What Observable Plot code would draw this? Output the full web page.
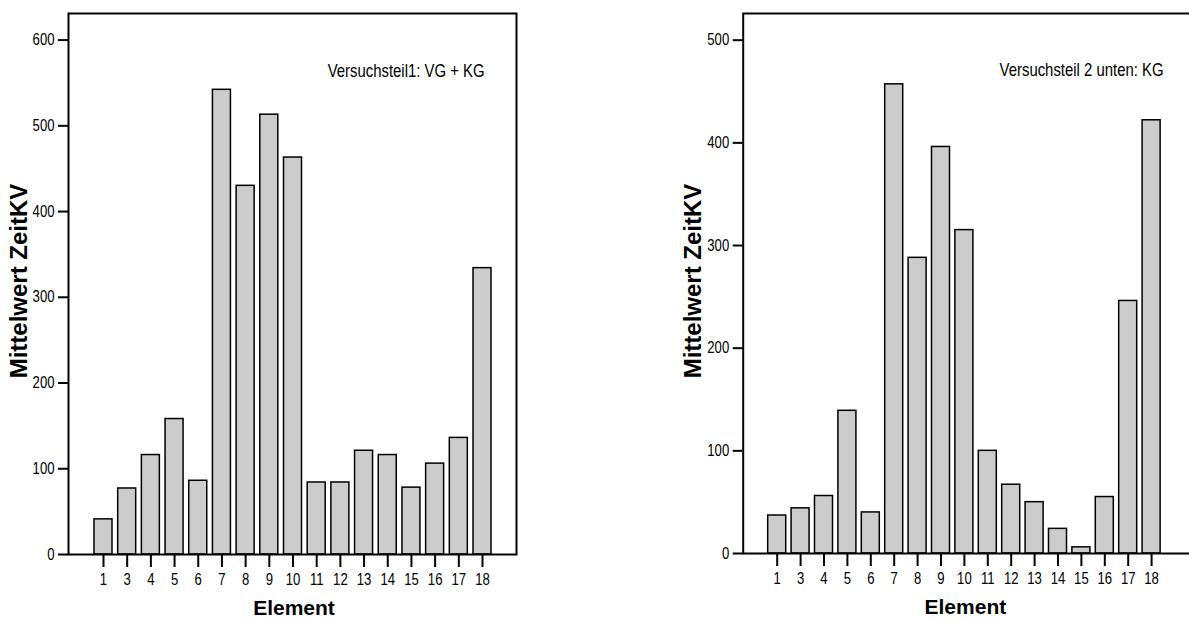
<!DOCTYPE html>
<html><head><meta charset="utf-8">
<script src="https://cdn.jsdelivr.net/npm/d3@7"></script>
<script src="https://cdn.jsdelivr.net/npm/@observablehq/plot@0.6"></script>
<style>
html,body{margin:0;padding:0;background:#fff;overflow:hidden;width:1189px;height:621px;}
#c1,#c2{position:absolute;top:0;width:540px;height:621px;}
#c1{left:0px}
#c2{left:660px}
svg{max-width:none !important;}
</style></head><body>
<div id="c1"></div><div id="c2"></div>
<script>
// Data
const elements = [1, 3, 4, 5, 6, 7, 8, 9, 10, 11, 12, 13, 14, 15, 16, 17, 18];
const zeitKV1 = [41, 77, 116, 158, 86, 542, 430, 513, 463, 84, 84, 121, 116, 78, 106, 136, 334];
const zeitKV2 = [37, 44, 56, 139, 40, 457, 288, 396, 315, 100, 67, 50, 24, 6, 55, 246, 422];
const yTicks1 = [0, 100, 200, 300, 400, 500, 600];
const yTicks2 = [0, 100, 200, 300, 400, 500];
const yMax1 = 631;
const yMax2 = 526;
const yTitle = "Mittelwert ZeitKV";
const xTitle = "Element";
const note1 = "Versuchsteil1: VG + KG";
const note2 = "Versuchsteil 2 unten: KG";

const SANS = "'Liberation Sans', Arial, Helvetica, sans-serif";

// narrow the glyphs of some texts, keeping their anchor and position
function condenseEl(el, k) {
  const w = el.getComputedTextLength();
  if (w > 0) {
    el.setAttribute("textLength", (w * k).toFixed(2));
    el.setAttribute("lengthAdjust", "spacingAndGlyphs");
  }
}

function chart(values, ticks, yMax, note, o) {
  const rows = elements.map((e, i) => ({e: String(e), v: values[i]}));
  return Plot.plot({
    width: o.width,
    height: 621,
    marginLeft: o.marginLeft,
    marginRight: o.marginRight,
    marginTop: 13,
    marginBottom: o.marginBottom,
    style: {fontFamily: SANS, fontSize: "16px", color: "black", background: "white", overflow: "visible", maxWidth: "none"},
    x: {type: "band", domain: elements.map(String), paddingInner: o.pad, paddingOuter: o.pad / 2,
        insetLeft: o.insetLeft, insetRight: o.insetRight, round: false, label: null},
    y: {domain: [0, yMax], label: null},
    marks: [
      Plot.barY(rows, {x: "e", y: "v", fill: "#cccccc", stroke: "black", strokeWidth: 1.5}),
      Plot.frame({stroke: "black", strokeWidth: 2}),
      Plot.axisY({ticks: ticks, tickSize: 10, tickPadding: 4, fontSize: 16, strokeWidth: 2, label: null}),
      Plot.axisX({tickSize: 13, tickPadding: 6, fontSize: 16, strokeWidth: 2, label: null}),
      Plot.text([note], {text: d => d, frameAnchor: "top-right", textAnchor: "end", lineAnchor: "top",
        dx: -32, dy: o.noteDy, fontSize: 18.5}),
      Plot.text([yTitle], {text: d => d, frameAnchor: "left", textAnchor: "middle", rotate: -90, dx: -49.5, dy: o.yTitleDy,
        fontSize: 24, fontWeight: "bold"}),
      Plot.text([xTitle], {text: d => d, frameAnchor: "bottom", textAnchor: "middle", lineAnchor: "top", dx: o.xTitleDx, dy: 45.5,
        fontSize: 21, fontWeight: "bold"})
    ]
  });
}

const svg1 = chart(zeitKV1, yTicks1, yMax1, note1, {
  width: 540, marginLeft: 68, marginRight: 24, marginBottom: 67,
  pad: 0.24, insetLeft: 23.15, insetRight: 22.15, noteDy: 50.5, yTitleDy: -3, xTitleDx: 1.5
});
const svg2 = chart(zeitKV2, yTicks2, yMax2, note2, {
  width: 540, marginLeft: 82.7, marginRight: 5, marginBottom: 68,
  pad: 0.23, insetLeft: 22.3, insetRight: 32.2, noteDy: 49, yTitleDy: -2.5, xTitleDx: -4
});
document.getElementById("c1").append(svg1);
document.getElementById("c2").append(svg2);
for (const svg of [svg1, svg2]) {
  try {
    svg.querySelectorAll('g[aria-label$="tick label"] text').forEach(el => condenseEl(el, 0.82));
    svg.querySelectorAll('text').forEach(el => {
      const s = el.textContent;
      if (s === note1 || s === note2) condenseEl(el, 0.805);
    });
  } catch (e) {}
}
</script>
</body></html>
